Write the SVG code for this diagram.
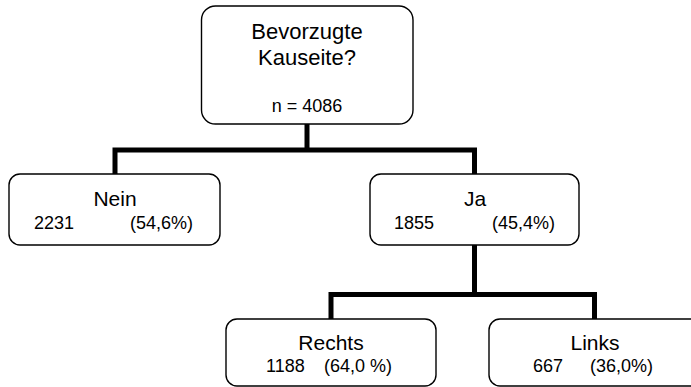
<svg xmlns="http://www.w3.org/2000/svg" width="691" height="387" viewBox="0 0 691 387">
<style>
.box{fill:#fff;stroke:#000;stroke-width:1.4}
.big{font-family:"Liberation Sans",Arial,sans-serif;font-size:21px;fill:#000;text-anchor:middle}
.title{font-size:22px}
.sm{font-family:"Liberation Sans",Arial,sans-serif;font-size:18px;fill:#000}
.mid{text-anchor:middle}
.con{fill:none;stroke:#000;stroke-width:5;stroke-linejoin:miter;stroke-linecap:butt}
</style>
<rect width="691" height="387" fill="#fff"/>
<g id="connectors">
<path class="con" d="M307,124 V150"/>
<path class="con" d="M115,174 V150 H474.5 V174"/>
<path class="con" d="M474.5,245 V294.5"/>
<path class="con" d="M331,319 V294.5 H594.5 V319"/>
</g>
<g id="root">
<rect class="box" x="201.5" y="6" width="211.5" height="118" rx="14"/>
<text class="big title" x="307" y="38.5">Bevorzugte</text>
<text class="big title" x="307" y="65">Kauseite?</text>
<text class="sm mid" x="307" y="111.5">n = 4086</text>
</g>
<g id="nein">
<rect class="box" x="9" y="174" width="211" height="71" rx="11"/>
<text class="big" x="115" y="205.5">Nein</text>
<text class="sm" x="34" y="229">2231</text>
<text class="sm" x="130" y="229">(54,6%)</text>
</g>
<g id="ja">
<rect class="box" x="370" y="174" width="209" height="71" rx="11"/>
<text class="big" x="475" y="205.5">Ja</text>
<text class="sm" x="394" y="229">1855</text>
<text class="sm" x="492" y="229">(45,4%)</text>
</g>
<g id="rechts">
<rect class="box" x="226" y="319" width="210" height="67" rx="11"/>
<text class="big" x="331" y="349.5">Rechts</text>
<text class="sm" x="266" y="372">1188</text>
<text class="sm" x="324" y="372">(64,0 %)</text>
</g>
<g id="links">
<rect class="box" x="489" y="319" width="215" height="67" rx="11"/>
<text class="big" x="595" y="349.5">Links</text>
<text class="sm" x="533" y="372">667</text>
<text class="sm" x="590" y="372">(36,0%)</text>
</g>
</svg>
